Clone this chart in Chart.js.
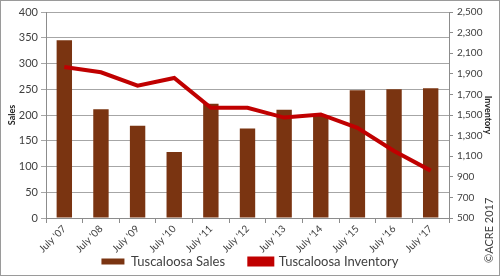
<!DOCTYPE html>
<html>
<head>
<meta charset="utf-8">
<script src="https://cdn.jsdelivr.net/npm/chart.js@4"></script>
<style>
  html, body { margin: 0; padding: 0; background: #fff; }
  #wrap { width: 498px; height: 274px; border: 1px solid #9a9a9a; }
</style>
</head>
<body>
<div id="wrap"><canvas id="salesChart" width="498" height="274"></canvas></div>
<script>
const labels = ["July '07", "July '08", "July '09", "July '10", "July '11", "July '12",
                "July '13", "July '14", "July '15", "July '16", "July '17"];
const sales = [345, 211, 179, 128, 222, 174, 210, 198, 248, 250, 252];
const inventory = [1965, 1915, 1785, 1860, 1570, 1570, 1475, 1505, 1375, 1150, 960];

const FONT = 'Lato, "Open Sans", sans-serif';

// cylinder-ish shading on each bar
function barFill(ctx) {
  const chart = ctx.chart;
  const xs = chart.scales.x;
  if (!xs || ctx.dataIndex === undefined) return '#7a3411';
  const cx = xs.getPixelForValue(ctx.dataIndex);
  if (!isFinite(cx)) return '#7a3411';
  const g = chart.ctx.createLinearGradient(cx - 8, 0, cx + 8, 0);
  g.addColorStop(0, '#5c2407');
  g.addColorStop(0.45, '#8a4216');
  g.addColorStop(1, '#5c2407');
  return g;
}

const copyright = {
  id: 'copyright',
  afterDraw(chart) {
    const c = chart.ctx;
    c.save();
    c.translate(488, 262);
    c.rotate(-Math.PI / 2);
    c.font = '11px ' + FONT;
    c.fillStyle = '#404040';
    c.textBaseline = 'middle';
    c.fillText('\u00A9ACRE 2017', 0, 0);
    c.restore();
  }
};

new Chart(document.getElementById('salesChart'), {
  data: {
    labels: labels,
    datasets: [
      {
        type: 'line',
        label: 'Tuscaloosa Inventory',
        data: inventory,
        yAxisID: 'y2',
        borderColor: '#c00000',
        backgroundColor: '#c00000',
        borderWidth: 4,
        pointRadius: 0,
        tension: 0,
        order: 0
      },
      {
        type: 'bar',
        label: 'Tuscaloosa Sales',
        data: sales,
        yAxisID: 'y',
        backgroundColor: '#7a3411',
        borderColor: '#4a1d05',
        borderWidth: 0,
        barPercentage: 0.42,
        categoryPercentage: 1,
        order: 1
      }
    ]
  },
  options: {
    responsive: false,
    animation: false,
    layout: { padding: { top: 11, left: 6, right: 6, bottom: -3 } },
    datasets: { bar: { backgroundColor: barFill } },
    plugins: {
      tooltip: { enabled: false },
      legend: {
        position: 'bottom',
        reverse: true,
        labels: {
          boxWidth: 23,
          boxHeight: 6,
          padding: 1,
          color: '#404040',
          font: { family: FONT, size: 13 },
          generateLabels(chart) {
            const items = Chart.defaults.plugins.legend.labels.generateLabels(chart);
            items.forEach(it => {
              if (it.text === 'Tuscaloosa Sales') it.text += '       ';
            });
            return items;
          }
        }
      }
    },
    scales: {
      x: {
        afterFit(s) { s.height = 36; },
        grid: { display: true, drawOnChartArea: false, offset: true, tickLength: 5, color: '#8c8c8c' },
        border: { color: '#8c8c8c' },
        ticks: {
          color: '#404040',
          font: { family: FONT, size: 10 },
          maxRotation: 45,
          minRotation: 45,
          padding: 0
        }
      },
      y: {
        position: 'left',
        min: 0,
        max: 400,
        afterFit(s) { s.width = 39; },
        ticks: { stepSize: 50, color: '#404040', font: { family: FONT, size: 11 }, padding: 3 },
        grid: { color: '#a6a6a6', tickLength: 5, drawTicks: true },
        border: { color: '#8c8c8c' },
        title: { display: true, text: 'Sales', color: '#222', padding: 0,
                 font: { family: FONT, size: 9, weight: 'bold' } }
      },
      y2: {
        position: 'right',
        min: 500,
        max: 2500,
        afterFit(s) { s.width = 44; },
        ticks: {
          stepSize: 200,
          color: '#404040',
          font: { family: FONT, size: 10 },
          padding: 4,
          callback: v => v.toLocaleString('en-US')
        },
        grid: { drawOnChartArea: false, tickLength: 4, color: '#8c8c8c' },
        border: { color: '#8c8c8c' },
        title: { display: true, text: 'Inventory', color: '#222', padding: 0,
                 font: { family: FONT, size: 9, weight: 'bold' } }
      }
    }
  },
  plugins: [copyright]
});
</script>
</body>
</html>
